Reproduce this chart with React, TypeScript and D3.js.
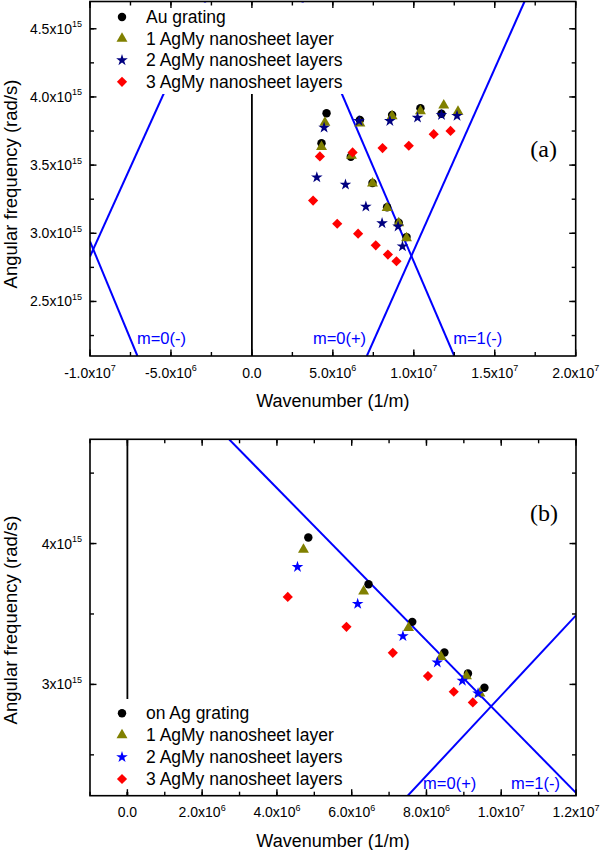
import React, { useEffect, useRef } from "react";
import * as d3 from "d3";

// ---- panel (a): Au grating, [wavenumber (1/m), angular frequency (rad/s)]
const auGrating: [number, number][] = [
  [4.61e6, 3.88e15], [4.30e6, 3.661e15], [6.67e6, 3.831e15], [6.11e6, 3.561e15],
  [7.45e6, 3.369e15], [8.35e6, 3.191e15], [9.07e6, 3.077e15], [9.55e6, 2.972e15],
  [8.66e6, 3.868e15], [10.41e6, 3.917e15], [11.71e6, 3.877e15],
];
const auOneLayer: [number, number][] = [
  [4.51e6, 3.812e15], [4.30e6, 3.634e15], [6.15e6, 3.569e15], [6.67e6, 3.807e15],
  [7.45e6, 3.366e15], [8.35e6, 3.187e15], [9.07e6, 3.074e15], [9.55e6, 2.965e15],
  [8.66e6, 3.86e15], [10.41e6, 3.897e15], [11.85e6, 3.939e15], [12.73e6, 3.892e15],
];
const auTwoLayers: [number, number][] = [
  [4.01e6, 3.41e15], [4.46e6, 3.775e15], [5.78e6, 3.357e15], [6.62e6, 3.824e15],
  [7.04e6, 3.196e15], [8.04e6, 3.074e15], [8.52e6, 3.824e15], [9.03e6, 3.05e15],
  [9.30e6, 2.904e15], [10.23e6, 3.848e15], [11.71e6, 3.868e15], [12.67e6, 3.861e15],
];
const auThreeLayers: [number, number][] = [
  [3.78e6, 3.24e15], [4.20e6, 3.564e15], [5.27e6, 3.07e15], [6.22e6, 3.593e15],
  [6.56e6, 2.997e15], [7.65e6, 2.912e15], [8.07e6, 3.625e15], [8.40e6, 2.844e15],
  [8.93e6, 2.795e15], [9.69e6, 3.642e15], [11.23e6, 3.727e15], [12.27e6, 3.751e15],
];

// ---- panel (b): Ag grating
const agGrating: [number, number][] = [
  [4.84e6, 4.043e15], [6.45e6, 3.711e15], [7.62e6, 3.444e15],
  [8.48e6, 3.227e15], [9.11e6, 3.078e15], [9.55e6, 2.976e15],
];
const agOneLayer: [number, number][] = [
  [4.71e6, 3.957e15], [6.32e6, 3.66e15], [7.52e6, 3.401e15],
  [8.39e6, 3.196e15], [9.07e6, 3.059e15], [9.43e6, 2.936e15],
];
const agTwoLayers: [number, number][] = [
  [4.55e6, 3.834e15], [6.16e6, 3.572e15], [7.37e6, 3.343e15],
  [8.29e6, 3.156e15], [8.96e6, 3.026e15], [9.38e6, 2.936e15],
];
const agThreeLayers: [number, number][] = [
  [4.29e6, 3.621e15], [5.86e6, 3.409e15], [7.10e6, 3.224e15],
  [8.04e6, 3.059e15], [8.73e6, 2.948e15], [9.24e6, 2.872e15],
];

// light lines / grating orders (end points)
const linesA: [number, number][][] = [
  [[-1.0e7, 2.94e15], [-7.07e6, 2.1e15]],
  [[-1.0e7, 2.83e15], [-2.87e6, 4.7e15]],
  [[7.1e6, 2.1e15], [1.684e7, 4.7e15]],
  [[3.11e6, 4.7e15], [1.25e7, 2.1e15]],
];
const linesB: [number, number][][] = [
  [[2.72e6, 4.74e15], [1.2e7, 2.23e15]],
  [[7.5e6, 2.21e15], [1.2e7, 3.49e15]],
];
const orderLabelsA = [
  { text: "m=0(-)", k: -7.1e6, w: 2.187e15 },
  { text: "m=0(+)", k: 3.77e6, w: 2.187e15 },
  { text: "m=1(-)", k: 12.43e6, w: 2.187e15 },
];
const orderLabelsB = [
  { text: "m=0(+)", k: 7.91e6, w: 2.258e15 },
  { text: "m=1(-)", k: 10.26e6, w: 2.258e15 },
];

const legendA = ["Au grating", "1 AgMy nanosheet layer", "2 AgMy nanosheet layers", "3 AgMy nanosheet layers"];
const legendB = ["on Ag grating", "1 AgMy nanosheet layer", "2 AgMy nanosheet layers", "3 AgMy nanosheet layers"];

const xTicksA = [-1e7, -5e6, 0, 5e6, 1e7, 1.5e7, 2e7];
const xMinorA = d3.range(-1e7, 2e7 + 1, 2.5e6);
const yTicksA = [2.5e15, 3.0e15, 3.5e15, 4.0e15, 4.5e15];
const yMinorA = [2.25e15, 2.5e15, 2.75e15, 3e15, 3.25e15, 3.5e15, 3.75e15, 4e15, 4.25e15, 4.5e15];
const xTicksB = [0, 2e6, 4e6, 6e6, 8e6, 1e7, 1.2e7];
const xMinorB = d3.range(-1e6, 1.2e7 + 1, 1e6);
const yTicksB = [3e15, 4e15];
const yMinorB = [2.5e15, 3e15, 3.5e15, 4e15, 4.5e15];

const SANS = "'Liberation Sans', Arial, sans-serif";
const SERIF = "'Liberation Serif', 'Times New Roman', serif";
const BLUE = "#0000ff";

const markers = [
  { type: d3.symbolCircle, size: 56, rot: 0 },
  { type: d3.symbolTriangle, size: 52, rot: 0 },
  { type: d3.symbolStar, size: 42, rot: 0 },
  { type: d3.symbolSquare, size: 52, rot: 45 },
];

const sci = (v: number, digits: number) => {
  if (v === 0) return { m: "0.0", e: "" };
  const e = Math.floor(Math.log10(Math.abs(v)) + 1e-9);
  return { m: (v / Math.pow(10, e)).toFixed(digits) + "x10", e: String(e) };
};

const drawPanel = (svg: any, cfg: any) => {
  const x = d3.scaleLinear().domain(cfg.xDomain).range([cfg.left, cfg.right]);
  const y = d3.scaleLinear().domain(cfg.yDomain).range([cfg.bottom, cfg.top]);
  const g = svg.append("g");

  g.append("clipPath").attr("id", cfg.id)
    .append("rect")
    .attr("x", cfg.left).attr("y", cfg.top)
    .attr("width", cfg.right - cfg.left).attr("height", cfg.bottom - cfg.top);

  const plot = g.append("g").attr("clip-path", `url(#${cfg.id})`);
  const line = d3.line<[number, number]>().x((d) => x(d[0])).y((d) => y(d[1]));

  // vertical k = 0 line
  plot.append("path")
    .attr("d", line([[0, cfg.yDomain[0]], [0, cfg.yDomain[1]]]))
    .attr("stroke", "#000").attr("stroke-width", 1.8).attr("fill", "none");

  cfg.lines.forEach((seg: [number, number][]) => {
    plot.append("path").attr("d", line(seg))
      .attr("stroke", BLUE).attr("stroke-width", 2).attr("fill", "none");
  });

  cfg.series.forEach((s: any, i: number) => {
    const mk = markers[i];
    const sym = d3.symbol().type(mk.type).size(mk.size);
    plot.selectAll(null).data(s.data).enter().append("path")
      .attr("d", sym())
      .attr("transform", (d: [number, number]) => `translate(${x(d[0])},${y(d[1])}) rotate(${mk.rot})`)
      .attr("fill", s.color);
  });

  cfg.orderLabels.forEach((l: any) => {
    g.append("text").attr("x", x(l.k)).attr("y", y(l.w))
      .attr("font-family", SANS).attr("font-size", 16.5).attr("fill", BLUE)
      .text(l.text);
  });

  // legend with white fill
  const lg = cfg.legend;
  g.append("rect").attr("x", lg.x).attr("y", lg.y).attr("width", lg.w).attr("height", lg.h).attr("fill", "#fff");
  cfg.series.forEach((s: any, i: number) => {
    const mk = markers[i];
    const ry = lg.y + lg.first + i * lg.step;
    g.append("path").attr("d", d3.symbol().type(mk.type).size(mk.size)())
      .attr("transform", `translate(${lg.x + 17},${ry}) rotate(${mk.rot})`)
      .attr("fill", s.color);
    g.append("text").attr("x", lg.x + 41).attr("y", ry).attr("dy", "0.35em")
      .attr("font-family", SANS).attr("font-size", 17.5).text(lg.labels[i]);
  });

  // inward ticks on all four sides
  const tickLines = (vals: number[], len: number, axis: "x" | "y") => {
    vals.forEach((v) => {
      if (axis === "x") {
        const px = x(v);
        g.append("line").attr("x1", px).attr("x2", px).attr("y1", cfg.bottom).attr("y2", cfg.bottom - len).attr("stroke", "#000").attr("stroke-width", 1.4);
        g.append("line").attr("x1", px).attr("x2", px).attr("y1", cfg.top).attr("y2", cfg.top + len).attr("stroke", "#000").attr("stroke-width", 1.4);
      } else {
        const py = y(v);
        g.append("line").attr("y1", py).attr("y2", py).attr("x1", cfg.left).attr("x2", cfg.left + len).attr("stroke", "#000").attr("stroke-width", 1.4);
        g.append("line").attr("y1", py).attr("y2", py).attr("x1", cfg.right).attr("x2", cfg.right - len).attr("stroke", "#000").attr("stroke-width", 1.4);
      }
    });
  };
  tickLines(cfg.xMinor, 4, "x");
  tickLines(cfg.xTicks, 6.5, "x");
  tickLines(cfg.yMinor, 4, "y");
  tickLines(cfg.yTicks, 6.5, "y");

  g.append("rect").attr("x", cfg.left).attr("y", cfg.top)
    .attr("width", cfg.right - cfg.left).attr("height", cfg.bottom - cfg.top)
    .attr("fill", "none").attr("stroke", "#000").attr("stroke-width", 1.6);

  // tick labels with superscript exponents
  cfg.xTicks.forEach((v: number) => {
    const s = sci(v, 1);
    const t = g.append("text").attr("x", x(v)).attr("y", cfg.bottom + 21.5)
      .attr("text-anchor", "middle").attr("font-family", SANS).attr("font-size", 14);
    t.append("tspan").text(s.m);
    if (s.e) t.append("tspan").attr("dy", -6.5).attr("font-size", 9).text(s.e);
  });
  cfg.yTicks.forEach((v: number) => {
    const s = sci(v, cfg.yDigits);
    const t = g.append("text").attr("x", cfg.left - 8).attr("y", y(v) + 5)
      .attr("text-anchor", "end").attr("font-family", SANS).attr("font-size", 14);
    t.append("tspan").text(s.m);
    t.append("tspan").attr("dy", -6.5).attr("font-size", 9).text(s.e);
  });

  g.append("text").attr("x", (cfg.left + cfg.right) / 2).attr("y", cfg.bottom + 51)
    .attr("text-anchor", "middle").attr("font-family", SANS).attr("font-size", 18)
    .text("Wavenumber (1/m)");
  g.append("text")
    .attr("transform", `translate(16.7,${cfg.yTitle}) rotate(-90)`)
    .attr("text-anchor", "middle").attr("font-family", SANS).attr("font-size", 18.5)
    .text("Angular frequency (rad/s)");

  g.append("text").attr("x", x(cfg.tag.k)).attr("y", y(cfg.tag.w))
    .attr("font-family", SERIF).attr("font-size", 24).text(cfg.tag.text);
};

const App: React.FC = () => {
  const ref = useRef<SVGSVGElement>(null);

  useEffect(() => {
    const svg = d3.select(ref.current);
    svg.selectAll("*").remove();

    drawPanel(svg, {
      id: "clipA",
      left: 90, right: 575.7, top: 1.5, bottom: 356,
      xDomain: [-1e7, 2e7], yDomain: [2.1e15, 4.7e15],
      xTicks: xTicksA, xMinor: xMinorA, yTicks: yTicksA, yMinor: yMinorA, yDigits: 1,
      lines: linesA, orderLabels: orderLabelsA,
      series: [
        { data: auGrating, color: "#000000" },
        { data: auOneLayer, color: "#808000" },
        { data: auTwoLayers, color: "#000080" },
        { data: auThreeLayers, color: "#ff0000" },
      ],
      legend: { x: 105, y: 2.5, w: 242, h: 91.5, first: 14.5, step: 21.6, labels: legendA },
      yTitle: 184,
      tag: { text: "(a)", k: 1.72e7, w: 3.559e15 },
    });

    drawPanel(svg, {
      id: "clipB",
      left: 90, right: 576, top: 439.3, bottom: 795.7,
      xDomain: [-1e6, 1.2e7], yDomain: [2.21e15, 4.74e15],
      xTicks: xTicksB, xMinor: xMinorB, yTicks: yTicksB, yMinor: yMinorB, yDigits: 0,
      lines: linesB, orderLabels: orderLabelsB,
      series: [
        { data: agGrating, color: "#000000" },
        { data: agOneLayer, color: "#808000" },
        { data: agTwoLayers, color: "#0000ff" },
        { data: agThreeLayers, color: "#ff0000" },
      ],
      legend: { x: 105, y: 699, w: 245, h: 93, first: 14.3, step: 21.9, labels: legendB },
      yTitle: 620,
      tag: { text: "(b)", k: 10.77e6, w: 4.16e15 },
    });
  }, []);

  return (
    <svg
      ref={ref}
      width={600}
      height={850}
      style={{ position: "absolute", left: 0, top: 0, background: "#fff" }}
    />
  );
};

export default App;
